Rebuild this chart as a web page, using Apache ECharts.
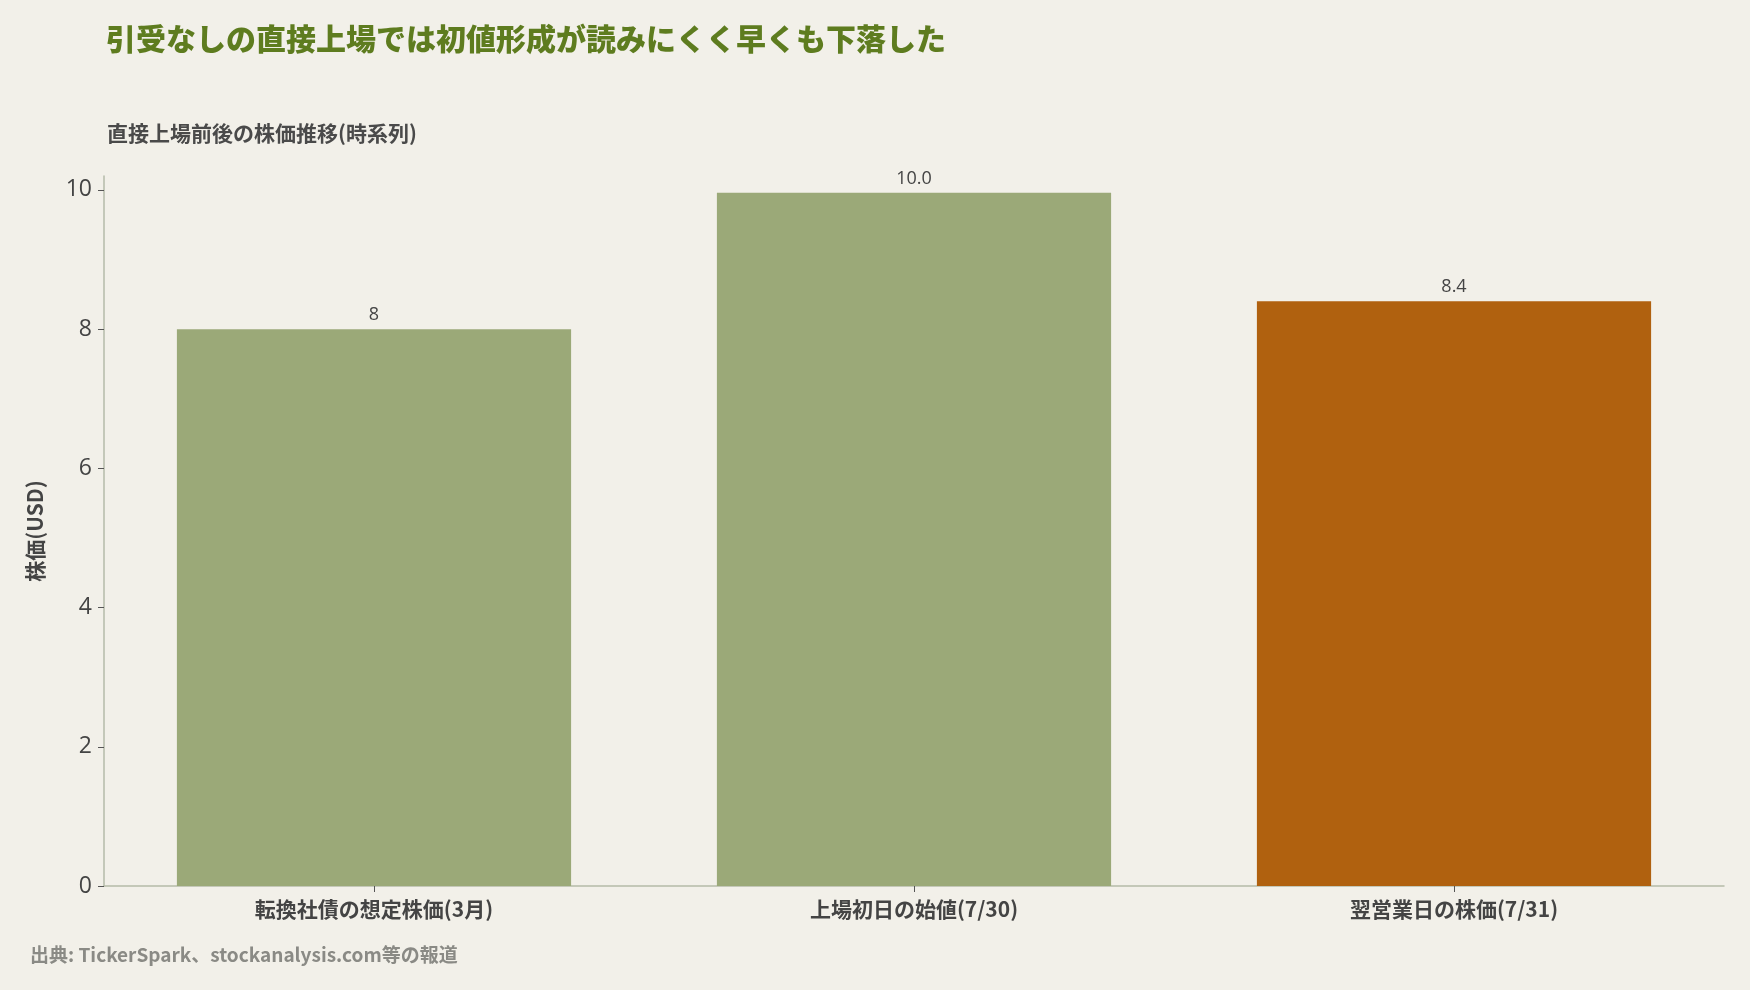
<!DOCTYPE html>
<html>
<head>
<meta charset="utf-8">
<script src="https://cdn.jsdelivr.net/npm/echarts@6/dist/echarts.min.js"></script>
<style>
html,body{margin:0;padding:0;background:#F2F0E9;}
#chart{width:1750px;height:990px;}
</style>
</head>
<body>
<div id="chart"></div>
<script>
const categories = ['転換社債の想定株価(3月)', '上場初日の始値(7/30)', '翌営業日の株価(7/31)'];
const prices = [8, 9.96, 8.4];
const barColors = ['#9BA978', '#9BA978', '#B0610F'];
const yTicks = [0, 2, 4, 6, 8, 10];

const FONT = '"Noto Sans CJK JP", "Noto Sans", sans-serif';
const NUMFONT = '"Open Sans", "Noto Sans CJK JP", sans-serif';
const chart = echarts.init(document.getElementById('chart'));
chart.setOption({
  backgroundColor: '#F2F0E9',
  animation: false,
  textStyle: { fontFamily: FONT },
  title: [
    { text: '引受なしの直接上場では初値形成が読みにくく早くも下落した', left: 101, top: 19,
      textStyle: { fontFamily: FONT, fontSize: 30, fontWeight: 900, color: '#5E7C1F' } },
    { text: '直接上場前後の株価推移(時系列)', left: 102, top: 118,
      textStyle: { fontFamily: FONT, fontSize: 21, fontWeight: 'bold', color: '#4A4A4A' } },
    { text: '出典: TickerSpark、stockanalysis.com等の報道', left: 25, top: 940,
      textStyle: { fontFamily: FONT, fontSize: 19, fontWeight: 'bold', color: '#8A8A85' } }
  ],
  grid: { left: 104, right: 26, top: 176, bottom: 104, containLabel: false },
  xAxis: {
    type: 'category',
    data: categories,
    axisLine: { show: true, lineStyle: { color: '#B5BBA8', width: 1.5 } },
    axisTick: { show: true, alignWithLabel: true, length: 6, lineStyle: { color: '#555', width: 1 } },
    axisLabel: { fontFamily: FONT, fontSize: 21, fontWeight: 'bold', color: '#444', margin: 13 }
  },
  yAxis: {
    type: 'value',
    min: 0, max: 10.2, interval: 2,
    name: '株価(USD)',
    nameLocation: 'middle',
    nameGap: 58,
    nameRotate: 90,
    nameTextStyle: { fontFamily: FONT, fontSize: 21, fontWeight: 'bold', color: '#444' },
    splitLine: { show: false },
    axisLine: { show: true, lineStyle: { color: '#B5BBA8', width: 1.5 } },
    axisTick: { show: true, length: 6, customValues: yTicks, lineStyle: { color: '#555', width: 1 } },
    axisLabel: {
      fontFamily: NUMFONT, fontSize: 23, color: '#444', margin: 12,
      customValues: yTicks
    }
  },
  series: [{
    type: 'bar',
    barWidth: '73%',
    data: prices.map((v, i) => ({ value: v, itemStyle: { color: barColors[i] } })),
    label: {
      show: true, position: 'top', distance: 5,
      fontFamily: NUMFONT, fontSize: 18, color: '#444',
      formatter: p => Number.isInteger(p.value) ? String(p.value) : p.value.toFixed(1)
    }
  }]
});
</script>
</body>
</html>
